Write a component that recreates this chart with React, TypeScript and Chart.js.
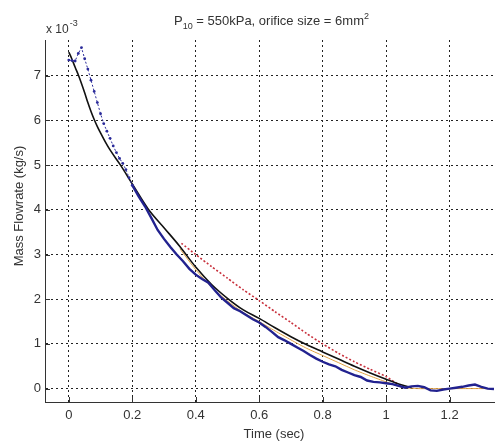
import React, { useEffect, useRef } from "react";
import { Chart, registerables } from "chart.js";

Chart.register(...registerables);

// ---- data (values in units of 1e-3 kg/s) ----
const xTicks = [0, 0.2, 0.4, 0.6, 0.8, 1, 1.2];
const yTicks = [0, 1, 2, 3, 4, 5, 6, 7];

// measured flow, start segment drawn with markers
const timeBlueStart = [0, 0.01, 0.02, 0.03, 0.04, 0.05, 0.06, 0.07, 0.08, 0.09, 0.1, 0.11, 0.12, 0.13, 0.14, 0.15, 0.16, 0.17, 0.18, 0.19, 0.2];
const flowBlueStart = [7.35, 7.34, 7.33, 7.5, 7.63, 7.38, 7.15, 6.9, 6.65, 6.4, 6.15, 5.93, 5.76, 5.6, 5.43, 5.28, 5.15, 5.04, 4.9, 4.72, 4.55];

// measured flow, remainder
const timeBlue = [0.2, 0.22, 0.24, 0.26, 0.28, 0.3, 0.32, 0.34, 0.36, 0.38, 0.4, 0.42, 0.44, 0.46, 0.48, 0.5, 0.52, 0.54, 0.56, 0.58, 0.6, 0.62, 0.64, 0.66, 0.68, 0.7, 0.72, 0.74, 0.76, 0.78, 0.8, 0.82, 0.84, 0.86, 0.88, 0.9, 0.92, 0.94, 0.96, 0.98, 1.0, 1.02, 1.04, 1.06, 1.08, 1.1, 1.12, 1.14, 1.16, 1.18, 1.2, 1.22, 1.24, 1.26, 1.28, 1.3, 1.32, 1.34];
const flowBlue = [4.55, 4.3, 4.08, 3.82, 3.55, 3.35, 3.17, 3.0, 2.85, 2.68, 2.55, 2.45, 2.37, 2.2, 2.04, 1.92, 1.8, 1.73, 1.64, 1.55, 1.48, 1.38, 1.27, 1.15, 1.08, 1.0, 0.92, 0.84, 0.75, 0.67, 0.6, 0.54, 0.5, 0.42, 0.36, 0.3, 0.26, 0.18, 0.15, 0.14, 0.12, 0.1, 0.06, 0.02, 0.05, 0.06, 0.03, -0.04, -0.05, -0.02, 0.0, 0.02, 0.04, 0.07, 0.09, 0.04, 0.0, -0.01];

// model (black)
const timeBlack = [0, 0.01, 0.02, 0.031, 0.05, 0.06, 0.07, 0.08, 0.09, 0.1, 0.115, 0.13, 0.163, 0.2, 0.25, 0.3, 0.35, 0.4, 0.45, 0.5, 0.55, 0.6, 0.65, 0.7, 0.75, 0.8, 0.85, 0.9, 0.95, 1.0, 1.05, 1.08];
const flowBlack = [7.53, 7.37, 7.19, 7.0, 6.62, 6.4, 6.2, 6.02, 5.86, 5.72, 5.52, 5.34, 5.0, 4.58, 4.02, 3.6, 3.18, 2.72, 2.33, 2.02, 1.76, 1.57, 1.36, 1.16, 0.98, 0.82, 0.66, 0.5, 0.35, 0.21, 0.08, 0.02];

// model (orange)
const timeOrange = [0.35, 0.4, 0.45, 0.5, 0.55, 0.6, 0.65, 0.7, 0.75, 0.8, 0.85, 0.9, 0.95, 1.0, 1.05, 1.1, 1.2, 1.34];
const flowOrange = [3.13, 2.66, 2.27, 1.96, 1.7, 1.5, 1.29, 1.09, 0.9, 0.74, 0.58, 0.42, 0.28, 0.15, 0.03, 0.0, 0.0, 0.0];

// model (red dotted)
const timeRed = [0.355, 0.4, 0.45, 0.5, 0.55, 0.6, 0.65, 0.7, 0.75, 0.8, 0.85, 0.9, 0.95, 1.0, 1.03, 1.05];
const flowRed = [3.25, 3.0, 2.73, 2.47, 2.21, 1.97, 1.72, 1.48, 1.23, 1.0, 0.79, 0.6, 0.43, 0.27, 0.13, 0.05];

const pts = (xs: number[], ys: number[]) => xs.map((x, i) => ({ x, y: ys[i] }));

const FONT = "'Liberation Sans', Arial, sans-serif";
const TEXT = "#333";

const decorPlugin = {
  id: "decor",
  afterDraw(chart: any) {
    const { ctx, chartArea } = chart;
    const xs = chart.scales.x;
    const ys = chart.scales.y;
    ctx.save();
    // inward tick marks
    ctx.strokeStyle = "#333";
    ctx.lineWidth = 1;
    ctx.setLineDash([]);
    xTicks.forEach((v) => {
      const px = Math.round(xs.getPixelForValue(v)) + 0.5;
      ctx.beginPath();
      ctx.moveTo(px, chartArea.bottom);
      ctx.lineTo(px, chartArea.bottom - 5);
      ctx.stroke();
    });
    yTicks.forEach((v) => {
      const py = Math.round(ys.getPixelForValue(v)) + 0.5;
      ctx.beginPath();
      ctx.moveTo(chartArea.left, py);
      ctx.lineTo(chartArea.left + 5, py);
      ctx.stroke();
    });
    ctx.fillStyle = TEXT;
    ctx.textBaseline = "alphabetic";
    // exponent label
    ctx.font = `12px ${FONT}`;
    ctx.textAlign = "left";
    ctx.fillText("x 10", 46, 33);
    const w = ctx.measureText("x 10").width;
    ctx.font = `9px ${FONT}`;
    ctx.fillText("-3", 46 + w + 1, 26);
    // title with sub/superscript
    const parts: [string, number, number][] = [
      ["P", 13, 0],
      ["10", 9, 4],
      [" = 550kPa, orifice size = 6mm", 13, 0],
      ["2", 9, -6],
    ];
    let total = 0;
    parts.forEach(([t, s]) => {
      ctx.font = `${s}px ${FONT}`;
      total += ctx.measureText(t).width;
    });
    let cx = (chartArea.left + chartArea.right) / 2 - total / 2 + 2;
    parts.forEach(([t, s, dy]) => {
      ctx.font = `${s}px ${FONT}`;
      ctx.fillText(t, cx, 25 + dy);
      cx += ctx.measureText(t).width;
    });
    // x label
    ctx.font = `13px ${FONT}`;
    ctx.textAlign = "center";
    ctx.fillText("Time (sec)", 274, 438);
    // y label
    ctx.translate(23, 206);
    ctx.rotate(-Math.PI / 2);
    ctx.fillText("Mass Flowrate (kg/s)", 0, 0);
    ctx.restore();
  },
};

export default function App() {
  const ref = useRef<HTMLCanvasElement>(null);
  useEffect(() => {
    document.body.style.margin = "0";
    const chart = new Chart(ref.current!, {
      type: "line",
      data: {
        datasets: [
          {
            data: pts(timeBlueStart, flowBlueStart),
            borderColor: "#2a2a9a",
            backgroundColor: "#2a2a9a",
            borderWidth: 1,
            borderDash: [2, 2],
            pointRadius: 1.4,
            pointBorderWidth: 0,
            tension: 0,
            order: 0,
          },
          {
            data: pts(timeBlue, flowBlue),
            borderColor: "#22228f",
            borderWidth: 2.4,
            pointRadius: 0,
            tension: 0,
            order: 1,
          },
          {
            data: pts(timeBlack, flowBlack),
            borderColor: "#111111",
            borderWidth: 1.6,
            pointRadius: 0,
            cubicInterpolationMode: "monotone",
            order: 2,
          },
          {
            data: pts(timeRed, flowRed),
            borderColor: "#c8303c",
            borderWidth: 1.6,
            borderDash: [2, 2],
            pointRadius: 0,
            tension: 0.2,
            order: 3,
          },
          {
            data: pts(timeOrange, flowOrange),
            borderColor: "#e0a040",
            borderWidth: 1,
            pointRadius: 0,
            tension: 0.2,
            order: 4,
          },
        ],
      },
      options: {
        animation: false,
        responsive: false,
        devicePixelRatio: 1,
        layout: { padding: { top: 40, left: 0, right: 0, bottom: 0 } },
        plugins: { legend: { display: false }, title: { display: false }, tooltip: { enabled: false } },
        scales: {
          x: {
            type: "linear",
            min: -0.075,
            max: 1.34,
            afterFit: (s: any) => { s.height = 43; },
            afterBuildTicks: (s: any) => { s.ticks = xTicks.map((v) => ({ value: v })); },
            ticks: {
              callback: (v: any) => String(Math.round(Number(v) * 10) / 10),
              color: TEXT,
              font: { family: FONT, size: 13 },
              padding: 6,
              maxRotation: 0,
              autoSkip: false,
            },
            grid: { color: "#222", lineWidth: 1, drawTicks: false },
            border: { display: true, color: "#333", width: 1, dash: [2, 3] },
          },
          y: {
            type: "linear",
            min: -0.3,
            max: 7.8,
            afterFit: (s: any) => { s.width = 45; },
            afterBuildTicks: (s: any) => { s.ticks = yTicks.map((v) => ({ value: v })); },
            ticks: {
              callback: (v: any) => String(v),
              color: TEXT,
              font: { family: FONT, size: 13 },
              padding: 4,
              autoSkip: false,
            },
            grid: { color: "#222", lineWidth: 1, drawTicks: false },
            border: { display: true, color: "#333", width: 1, dash: [2, 3] },
          },
        },
      },
      plugins: [decorPlugin],
    } as any);
    return () => chart.destroy();
  }, []);
  return (
    <div style={{ position: "absolute", left: 0, top: 0 }}>
      <canvas ref={ref} width={498} height={445} style={{ width: 498, height: 445, display: "block" }} />
    </div>
  );
}
